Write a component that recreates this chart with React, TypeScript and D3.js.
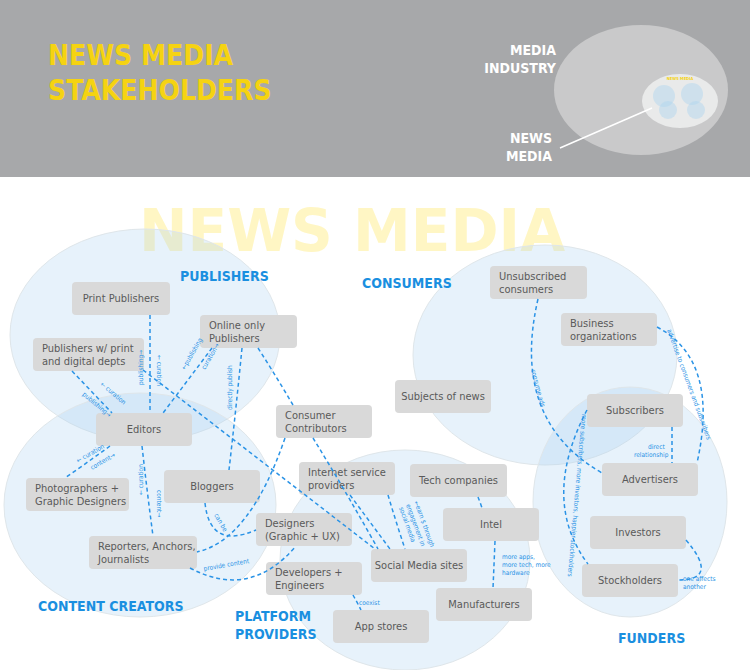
import React from "react";
import * as d3 from "d3";

const groups = [
  { name: "publishers", cx: 145, cy: 335, rx: 135, ry: 106 },
  { name: "creators", cx: 140, cy: 505, rx: 136, ry: 112 },
  { name: "consumers", cx: 545, cy: 355, rx: 132, ry: 110 },
  { name: "funders", cx: 630, cy: 502, rx: 97, ry: 115 },
  { name: "platform", cx: 405, cy: 560, rx: 125, ry: 110 },
];

const groupLabels = [
  { t: ["PUBLISHERS"], x: 180, y: 281 },
  { t: ["CONSUMERS"], x: 362, y: 288 },
  { t: ["CONTENT CREATORS"], x: 38, y: 611 },
  { t: ["PLATFORM", "PROVIDERS"], x: 235, y: 621 },
  { t: ["FUNDERS"], x: 618, y: 643 },
];

const boxes = [
  { id: "print", t: ["Print  Publishers"], x: 72, y: 282, w: 98 },
  { id: "online", t: ["Online only", "Publishers"], x: 200, y: 315, w: 97 },
  { id: "pwp", t: ["Publishers w/ print", "and digital depts"], x: 33, y: 338, w: 111 },
  { id: "editors", t: ["Editors"], x: 96, y: 413, w: 96 },
  { id: "cc", t: ["Consumer", "Contributors"], x: 276, y: 405, w: 96 },
  { id: "photo", t: ["Photographers +", "Graphic Designers"], x: 26, y: 478, w: 103 },
  { id: "bloggers", t: ["Bloggers"], x: 164, y: 470, w: 96 },
  { id: "reporters", t: ["Reporters, Anchors,", "Journalists"], x: 89, y: 536, w: 108 },
  { id: "isp", t: ["Internet service", "providers"], x: 299, y: 462, w: 96 },
  { id: "tech", t: ["Tech companies"], x: 410, y: 464, w: 97 },
  { id: "designers", t: ["Designers", "(Graphic + UX)"], x: 256, y: 513, w: 96 },
  { id: "intel", t: ["Intel"], x: 443, y: 508, w: 96 },
  { id: "social", t: ["Social Media sites"], x: 371, y: 549, w: 96 },
  { id: "dev", t: ["Developers +", "Engineers"], x: 266, y: 562, w: 96 },
  { id: "manu", t: ["Manufacturers"], x: 436, y: 588, w: 96 },
  { id: "app", t: ["App stores"], x: 333, y: 610, w: 96 },
  { id: "unsub", t: ["Unsubscribed", "consumers"], x: 490, y: 266, w: 97 },
  { id: "biz", t: ["Business", "organizations"], x: 561, y: 313, w: 96 },
  { id: "subjects", t: ["Subjects of news"], x: 395, y: 380, w: 96 },
  { id: "subs", t: ["Subscribers"], x: 587, y: 394, w: 96 },
  { id: "adv", t: ["Advertisers"], x: 602, y: 463, w: 96 },
  { id: "inv", t: ["Investors"], x: 590, y: 516, w: 96 },
  { id: "stock", t: ["Stockholders"], x: 582, y: 564, w: 96 },
];

// links: start, control, end
const links: [number, number, number, number, number, number][] = [
  [150, 315, 150, 364, 150, 413],
  [72, 371, 92, 392, 112, 413],
  [212, 348, 188, 380, 163, 413],
  [242, 348, 236, 409, 229, 470],
  [258, 348, 276, 376, 293, 405],
  [143, 370, 260, 460, 375, 549],
  [285, 438, 250, 540, 197, 552],
  [313, 438, 345, 490, 378, 549],
  [110, 446, 88, 462, 65, 478],
  [142, 446, 147, 491, 153, 536],
  [205, 503, 210, 550, 256, 530],
  [190, 568, 250, 600, 296, 546],
  [350, 495, 370, 522, 390, 549],
  [388, 495, 396, 522, 405, 549],
  [478, 497, 480, 502, 482, 508],
  [495, 541, 494, 565, 493, 588],
  [353, 595, 357, 602, 361, 610],
  [538, 299, 510, 420, 602, 473],
  [657, 327, 720, 360, 697, 463],
  [672, 427, 672, 445, 672, 463],
  [587, 410, 540, 500, 588, 564],
  [686, 540, 720, 580, 678, 580],
];

const notes = [
  { t: "← curation", x: 157, y: 355, r: 90 },
  { t: "publishing→", x: 143, y: 385, r: -90 },
  { t: "← curation", x: 100, y: 385, r: 40 },
  { t: "publishing→", x: 82, y: 395, r: 40 },
  { t: "←publishing", x: 185, y: 370, r: -60 },
  { t: "curation→", x: 205, y: 370, r: -60 },
  { t: "directly publish", x: 232, y: 410, r: -90 },
  { t: "← curation", x: 78, y: 463, r: -30 },
  { t: "content→", x: 92, y: 470, r: -30 },
  { t: "← curation", x: 143, y: 495, r: -90 },
  { t: "content→", x: 157, y: 490, r: 90 },
  { t: "can be", x: 214, y: 515, r: 60 },
  { t: "provide content", x: 204, y: 571, r: -10 },
  { t: "←earn $ through", x: 414, y: 502, r: 70 },
  { t: "engagement in", x: 406, y: 505, r: 70 },
  { t: "social media", x: 399, y: 508, r: 70 },
  { t: "more apps,", x: 502, y: 559, r: 0 },
  { t: "more tech, more", x: 502, y: 567, r: 0 },
  { t: "hardware", x: 502, y: 575, r: 0 },
  { t: "coexist", x: 359, y: 605, r: 0 },
  { t: "consume ads", x: 531, y: 370, r: 75 },
  { t: "advertise to consumers and subscribers", x: 667, y: 330, r: 70 },
  { t: "direct", x: 648, y: 449, r: 0 },
  { t: "relationship", x: 634, y: 457, r: 0 },
  { t: "more subscribers, more investors, happier stockholders", x: 582, y: 414, r: 95 },
  { t: "one affects", x: 683, y: 581, r: 0 },
  { t: "another", x: 683, y: 589, r: 0 },
];

const BLUE = "#2a93e6";
const font = "'DejaVu Sans Condensed', 'Liberation Sans Narrow', 'Open Sans', sans-serif";

export default function App() {
  const pathOf = (l: number[]) => {
    const p = d3.path();
    p.moveTo(l[0], l[1]);
    p.quadraticCurveTo(l[2], l[3], l[4], l[5]);
    return p.toString();
  };
  return (
    <div style={{ position: "absolute", left: 0, top: 0 }}>
      <svg width={750} height={670} style={{ display: "block", fontFamily: font }}>
        <rect x={0} y={0} width={750} height={670} fill="#fff" />
        <rect x={0} y={0} width={750} height={177} fill="#a7a8aa" />
        <text fill="#f5d312" fontWeight="bold" fontSize={28} textLength={0}>
          <tspan x={48} y={65}>NEWS MEDIA</tspan>
          <tspan x={48} y={100}>STAKEHOLDERS</tspan>
        </text>
        <ellipse cx={641} cy={90} rx={87} ry={65} fill="#c9c9ca" />
        <ellipse cx={680} cy={101} rx={38} ry={27} fill="#e9eaea" />
        <text x={680} y={80} fontSize={4} fill="#f5d312" textAnchor="middle" fontWeight="bold">NEWS MEDIA</text>
        {[[664, 96, 11], [692, 94, 11], [668, 110, 9], [696, 110, 9]].map((c, i) => (
          <circle key={i} cx={c[0]} cy={c[1]} r={c[2]} fill="rgba(173,213,240,0.45)" />
        ))}
        <line x1={560} y1={148} x2={652} y2={108} stroke="#fff" strokeWidth={1.5} />
        <text fill="#fff" fontWeight="bold" fontSize={14} textAnchor="end">
          <tspan x={556} y={55}>MEDIA</tspan>
          <tspan x={556} y={73}>INDUSTRY</tspan>
          <tspan x={552} y={143}>NEWS</tspan>
          <tspan x={552} y={161}>MEDIA</tspan>
        </text>
        <text x={352} y={251} textAnchor="middle" fontSize={58} fontWeight="bold" fill="#fff6c4" fontFamily="'DejaVu Sans', sans-serif">NEWS MEDIA</text>
        {groups.map((g) => (
          <ellipse key={g.name} cx={g.cx} cy={g.cy} rx={g.rx} ry={g.ry} fill="rgba(170,210,240,0.28)" stroke="#dfe6ea" strokeWidth={1} />
        ))}
        {groupLabels.map((g, i) => (
          <text key={i} fill="#1a8fe0" fontWeight="bold" fontSize={14}>
            {g.t.map((s, j) => <tspan key={j} x={g.x} y={g.y + j * 18}>{s}</tspan>)}
          </text>
        ))}
        {boxes.map((b) => (
          <g key={b.id}>
            <rect x={b.x} y={b.y} width={b.w} height={33} rx={4} fill="#d9d9d9" />
            <text fontSize={11} fill="#5a5a5a" textAnchor={b.t.length > 1 ? "start" : "middle"}>
              {b.t.map((s, j) => (
                <tspan key={j} x={b.t.length > 1 ? b.x + 9 : b.x + b.w / 2}
                  y={b.t.length > 1 ? b.y + 14 + j * 12.5 : b.y + 20}>{s}</tspan>
              ))}
            </text>
          </g>
        ))}
        {links.map((l, i) => (
          <path key={i} d={pathOf(l)} fill="none" stroke={BLUE} strokeWidth={1.5} strokeDasharray="4,3" />
        ))}
        {notes.map((n, i) => (
          <text key={i} x={n.x} y={n.y} fontSize={6.5} fill={BLUE} transform={`rotate(${n.r},${n.x},${n.y})`}>{n.t}</text>
        ))}
      </svg>
    </div>
  );
}
